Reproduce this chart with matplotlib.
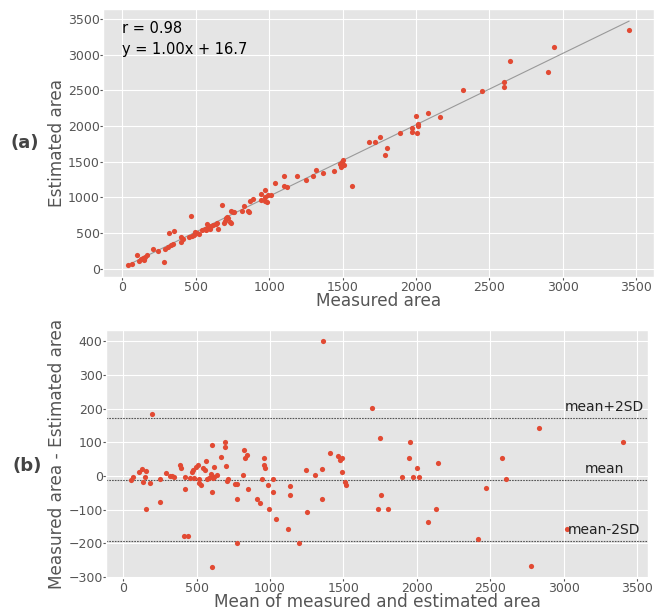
import numpy as np
import matplotlib
matplotlib.use('Agg')
import matplotlib.pyplot as plt

plt.style.use('ggplot')
plt.rcParams['font.family'] = ['DejaVu Sans']

# (a) measured vs estimated area
measured = [40, 65, 100, 115, 126, 137, 151, 165, 144, 205, 244, 280, 292, 312, 328, 344,
            319, 351, 401, 401, 414, 453, 471, 489, 505, 519, 496, 469, 544, 560, 578, 584,
            601, 619, 635, 642, 567, 596, 648, 680, 691, 705, 712, 698, 721, 732, 741, 741,
            750, 759, 814, 830, 855, 864, 871, 891, 941, 969, 943, 973, 971, 982, 991, 1010,
            1039, 1100, 1100, 1118, 1191, 1250, 1300, 1320, 1364, 1439, 1486, 1484, 1500,
            1495, 1511, 1561, 1681, 1720, 1752, 1790, 1800, 1890, 1970, 1972, 2001, 2011,
            2013, 2004, 2079, 2161, 2319, 2451, 2601, 2601, 2640, 2901, 2941, 3450]
estimated = [56, 70, 200, 110, 136, 150, 164, 192, 126, 284, 256, 98, 284, 312, 332, 346,
             504, 532, 444, 378, 416, 452, 462, 476, 500, 490, 522, 742, 542, 564, 630, 592,
             602, 612, 630, 644, 546, 556, 560, 887, 640, 710, 724, 672, 710, 654, 644, 812,
             789, 794, 812, 873, 812, 794, 948, 980, 957, 1106, 1050, 1008, 952, 938, 1040, 1027,
             1199, 1297, 1157, 1143, 1297, 1237, 1297, 1390, 1348, 1372, 1432, 1464, 1525,
             1492, 1460, 1157, 1780, 1780, 1850, 1589, 1687, 1896, 1975, 1919, 2142, 2021,
             1993, 1896, 2180, 2124, 2508, 2490, 2611, 2550, 2908, 2759, 3099, 3350]
r_value = 0.98
slope = 1.00
intercept = 16.7

# (b) Bland-Altman: mean of both vs difference
ba_mean = [193, 52, 68, 107, 127, 157, 150, 132, 182, 152, 248, 250, 289, 316, 332, 345,
           386, 393, 418, 423, 413, 443, 454, 484, 466, 477, 493, 511, 518, 518, 529, 543,
           557, 563, 568, 582, 595, 602, 609, 618, 606, 606, 620, 640, 665, 693, 693, 697,
           716, 708, 761, 775, 777, 813, 822, 840, 831, 852, 909, 934, 947, 956, 956, 963,
           988, 992, 1017, 1017, 1038, 1122, 1135, 1133, 1245, 1249, 601, 774, 1200,
           1362, 1692, 1749, 1953, 1948, 1406, 1460, 1488, 1476, 1356, 1304, 1488, 1512,
           1517, 1356, 1753, 1733, 1803, 1896, 1973, 2016, 2003, 2144, 2132, 2073, 2418,
           2473, 2832, 3404, 2577, 2609, 3022, 2777]
ba_diff = [183, -13, -3, 11, 21, 13, -3, -18, -21, -98, -8, -78, 9, 0, 1, -3,
           33, 22, -2, -39, -178, -178, -5, -5, 11, 17, 25, 31, -8, -20, -28, 22,
           18, 43, -8, -5, 6, 0, -7, -2, 92, -48, 26, 2, 56, 102, 86, 30,
           -8, -16, -23, -23, -68, 4, 76, 62, 52, -39, -68, -82, -8, 52, 33, 24,
           -28, -98, -8, -48, -128, -157, -29, -58, 16, -108, -270, -200, -200,
           400, 202, 113, 102, 52, 68, 58, 52, 46, 20, 2, 11, -18,
           -28, -68, -57, -98, -98, -2, -3, -4, 22, 37, -98, -137, -189,
           -37, 142, 102, 52, -8, -158, -268]
mean_diff = -11
upper_loa = 173
lower_loa = -195
line_names = ['mean+2SD', 'mean', 'mean-2SD']

red = '#E24A33'
fig = plt.figure(figsize=(6.54, 6.12), dpi=100)
ax1 = fig.add_axes([103.3 / 654, 1 - 277 / 612, (654 - 103.3) / 654, 268 / 612])
ax2 = fig.add_axes([106.3 / 654, 1 - 578 / 612, (647.6 - 106.3) / 654, 248 / 612])

# top panel
ax1.scatter(measured, estimated, s=14, color=red, zorder=3, linewidths=0)
fit_x = np.array([min(measured), max(measured)])
ax1.plot(fit_x, slope * fit_x + intercept, color='#999999', lw=0.8, zorder=2)
ax1.set_xticks(np.arange(0, 3501, 500))
ax1.set_yticks(np.arange(0, 3501, 500))
ax1.text(0, 3370, 'r = %.2f' % r_value, fontsize=10.5, color='black', va='center')
ax1.text(0, 3075, 'y = %.2fx + %.1f' % (slope, intercept), fontsize=10.5,
         color='black', va='center')
ax1.set_xlabel('Measured area', fontsize=12.2, labelpad=-1)
ax1.set_ylabel('Estimated area', fontsize=12.2)

# bottom panel
ax2.scatter(ba_mean, ba_diff, s=14, color=red, zorder=3, linewidths=0)
for val, name in zip([upper_loa, mean_diff, lower_loa], line_names):
    ax2.axhline(val, color='#555555', lw=0.8, ls=(0, (1.5, 1)), zorder=2)
    ax2.text(3278, val + 12, name, fontsize=10, color='#222222', ha='center', va='bottom')
ax2.set_xticks(np.arange(0, 3501, 500))
ax2.set_yticks(np.arange(-300, 401, 100))
ax2.set_xlabel('Mean of measured and estimated area', fontsize=12.2, labelpad=-1)
ax2.set_ylabel('Measured area - Estimated area', fontsize=12.2)

for ax in (ax1, ax2):
    ax.tick_params(labelsize=9, colors='#555555', length=2, pad=0.6)
    ax.xaxis.label.set_color('#555555')
    ax.yaxis.label.set_color('#555555')
ax1.yaxis.set_label_coords((66 - 103.3) / 550.7, 0.5)
ax2.yaxis.set_label_coords((66 - 106.3) / 541.3, 0.5)

fig.text(25 / 654, 1 - 143 / 612, '(a)', fontsize=13, fontweight='bold', color='#444444',
         ha='center', va='center')
fig.text(27 / 654, 1 - 466 / 612, '(b)', fontsize=13, fontweight='bold', color='#444444',
         ha='center', va='center')

plt.savefig('out.png', dpi=100)
